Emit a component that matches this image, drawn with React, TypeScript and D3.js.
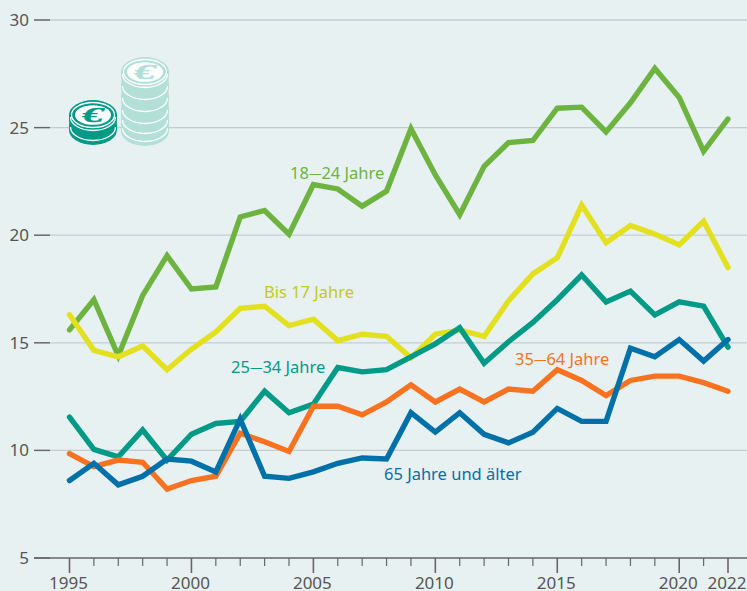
import React from "react";
import * as d3 from "d3";

const years = d3.range(1995, 2023);
const labelledYears = [1995, 2000, 2005, 2010, 2015, 2020, 2022];
const yTicks = [5, 10, 15, 20, 25, 30];
const age1824 = [15.6, 17.0, 14.4, 17.2, 19.05, 17.5, 17.6, 20.85, 21.15, 20.05, 22.35, 22.15, 21.35, 22.05, 24.95, 22.8, 20.95, 23.2, 24.3, 24.4, 25.9, 25.95, 24.8, 26.15, 27.75, 26.4, 23.9, 25.4];
const ageU17 = [16.3, 14.65, 14.35, 14.85, 13.75, 14.7, 15.5, 16.6, 16.7, 15.8, 16.1, 15.1, 15.4, 15.3, 14.3, 15.4, 15.6, 15.3, 16.95, 18.2, 18.95, 21.4, 19.65, 20.45, 20.05, 19.55, 20.65, 18.5];
const age2534 = [11.55, 10.05, 9.7, 10.95, 9.55, 10.75, 11.25, 11.35, 12.75, 11.75, 12.15, 13.85, 13.65, 13.75, 14.35, 14.95, 15.7, 14.05, 15.05, 15.95, 17.0, 18.15, 16.9, 17.4, 16.3, 16.9, 16.7, 14.8];
const age3564 = [9.85, 9.25, 9.55, 9.45, 8.2, 8.6, 8.8, 10.8, 10.4, 9.95, 12.05, 12.05, 11.65, 12.25, 13.05, 12.25, 12.85, 12.25, 12.85, 12.75, 13.75, 13.25, 12.55, 13.25, 13.45, 13.45, 13.15, 12.75];
const age65 = [8.6, 9.4, 8.4, 8.8, 9.6, 9.5, 9.0, 11.45, 8.8, 8.7, 9.0, 9.4, 9.65, 9.6, 11.75, 10.85, 11.75, 10.75, 10.35, 10.85, 11.95, 11.35, 11.35, 14.75, 14.35, 15.15, 14.15, 15.15];

const x = d3.scaleLinear().domain([1995, 2022]).range([69.5, 728]);
const y = d3.scaleLinear().domain([5, 30]).range([558, 20]);
const line = d3.line<number>().x((_, i) => x(years[i])).y((d) => y(d));

const seriesList = [
  { name: "18—24 Jahre", values: age1824, color: "#6db33f", lx: 290, ly: 179 },
  { name: "Bis 17 Jahre", values: ageU17, color: "#e2e01f", lx: 264, ly: 298 },
  { name: "25—34 Jahre", values: age2534, color: "#009a87", lx: 231, ly: 373 },
  { name: "35—64 Jahre", values: age3564, color: "#f97220", lx: 515, ly: 365 },
  { name: "65 Jahre und älter", values: age65, color: "#0070a8", lx: 384, ly: 480 },
];
const labelColors: Record<string, string> = { "Bis 17 Jahre": "#c4c91c" };

const RX = 24;
const RY = 15;
function CoinStack({ cx, layers, color }: { cx: number; layers: number[]; color: string }) {
  const top = layers[0];
  return (
    <g>
      {[...layers].reverse().map((cy) => (
        <g key={cy}>
          <ellipse cx={cx} cy={cy + 5} rx={RX} ry={RY} fill={color} />
          <rect x={cx - RX} y={cy} width={RX * 2} height={5} fill={color} />
          <ellipse cx={cx} cy={cy} rx={RX} ry={RY} fill={color} />
          <path d={`M${cx - RX + 1.5},${cy + 2} A${RX - 1.5},${RY - 1.5} 0 0 0 ${cx + RX - 1.5},${cy + 2}`} fill="none" stroke="#ffffff" strokeWidth={1.3} />
        </g>
      ))}
      <ellipse cx={cx} cy={top} rx={RX - 2.5} ry={RY - 2.5} fill="none" stroke="#ffffff" strokeWidth={1.3} />
      <ellipse cx={cx} cy={top} rx={RX - 6} ry={RY - 5.2} fill="#ffffff" />
      <text x={cx} y={top + 6.5} textAnchor="middle" fontFamily="'Liberation Serif'" fontWeight="bold" fontStyle="italic" fontSize={20} textLength={21} lengthAdjust="spacingAndGlyphs" stroke={color} strokeWidth={0.4} fill={color}>€</text>
    </g>
  );
}

function Label({ name, lx, ly, fill, font }: { name: string; lx: number; ly: number; fill: string; font: string }) {
  const parts = name.split("—");
  return (
    <text x={lx} y={ly} fontFamily={font} fontSize={16.5} fill={fill}>
      {parts.length === 2 ? (
        <>
          {parts[0]}
          <tspan fontSize={12.5} dy={-1}>—</tspan>
          <tspan dy={1}>{parts[1]}</tspan>
        </>
      ) : (
        name
      )}
    </text>
  );
}

export default function App() {
  const font = "'Noto Sans', sans-serif";
  return (
    <svg width={747} height={591} style={{ position: "absolute", left: 0, top: 0, background: "#e8f1f2" }}>
      {yTicks.map((t) => (
        <g key={t}>
          <line x1={34} x2={747} y1={y(t)} y2={y(t)} stroke={t === 5 ? "#666" : "#c3cdd0"} strokeWidth={t === 5 ? 1.4 : 1.3} />
          <line x1={34} x2={50} y1={y(t)} y2={y(t)} stroke="#666" strokeWidth={1.4} />
          <text x={29} y={y(t) + 6} textAnchor="end" fontFamily={font} fontSize={17} fill="#555">{t}</text>
        </g>
      ))}
      {years.map((yr) => {
        const major = labelledYears.includes(yr);
        return <line key={yr} x1={x(yr)} x2={x(yr)} y1={558} y2={major ? 573 : 566} stroke="#666" strokeWidth={major ? 1.6 : 1.2} />;
      })}
      {labelledYears.map((yr) => (
        <text key={yr} x={x(yr) - 1} y={589} textAnchor="middle" fontFamily={font} fontSize={17} fill="#555">{yr}</text>
      ))}
      <CoinStack cx={145} layers={[72, 84, 96, 108, 118, 126]} color="#b2e0d6" />
      <CoinStack cx={93} layers={[115, 125]} color="#009a87" />
      {seriesList.map((s) => (
        <path key={s.name} d={line(s.values) ?? ""} fill="none" stroke={s.color} strokeWidth={5.4} strokeLinejoin="miter" strokeLinecap="round" />
      ))}
      {seriesList.map((s) => (
        <Label key={s.name} name={s.name} lx={s.lx} ly={s.ly} fill={labelColors[s.name] ?? s.color} font={font} />
      ))}
    </svg>
  );
}
